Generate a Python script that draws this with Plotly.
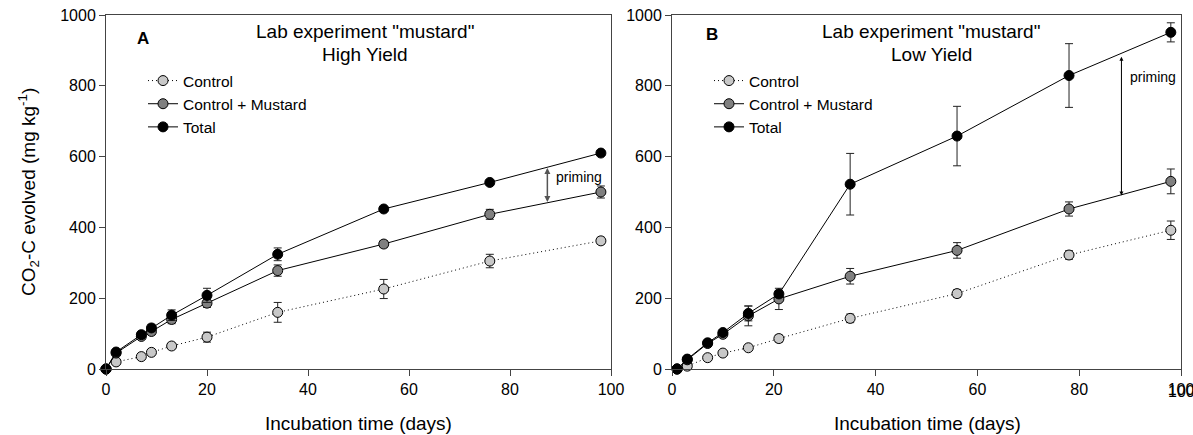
import plotly.graph_objects as go

# ---------------- data ----------------
days_A = [0, 2, 7, 9, 13, 20, 34, 55, 76, 98]
control_A = [0, 20, 35, 47, 65, 90, 160, 226, 305, 362]
control_A_err = [0, 4, 5, 5, 8, 14, 28, 27, 19, 10]
mustard_A = [0, 45, 92, 106, 140, 186, 278, 353, 437, 500]
mustard_A_err = [0, 4, 8, 9, 12, 12, 16, 10, 14, 17]
total_A = [0, 48, 97, 116, 152, 208, 324, 452, 527, 610]
total_A_err = [0, 4, 5, 10, 15, 20, 18, 6, 6, 6]

days_B = [1, 3, 7, 10, 15, 21, 35, 56, 78, 98]
control_B = [0, 8, 32, 45, 60, 86, 143, 213, 322, 392]
control_B_err = [0, 4, 4, 5, 6, 10, 12, 11, 12, 26]
mustard_B = [0, 26, 72, 98, 150, 198, 262, 335, 452, 530]
mustard_B_err = [0, 4, 5, 6, 28, 30, 22, 22, 20, 35]
total_B = [0, 28, 74, 103, 157, 212, 522, 658, 829, 951]
total_B_err = [0, 4, 5, 7, 21, 10, 87, 84, 90, 27]

series_names = ["Control", "Control + Mustard", "Total"]
x_ticks = [0, 20, 40, 60, 80, 100]
y_ticks = [0, 200, 400, 600, 800, 1000]

FONT = "Liberation Sans, Arial, sans-serif"
W, H = 1193, 435
ML, MR, MT, MB = 0, 0, 15, 66
PH = H - MT - MB


def px_x(p):
    return p / W


def px_y(p):
    return (H - MB - p) / PH


styles = [
    dict(fill="#c8c8c8", dash="1px,3px"),
    dict(fill="#808080", dash="solid"),
    dict(fill="#000000", dash="solid"),
]

fig = go.Figure()

panels = [
    ("x", "y", "legend", days_A, [(control_A, control_A_err), (mustard_A, mustard_A_err), (total_A, total_A_err)]),
    ("x2", "y2", "legend2", days_B, [(control_B, control_B_err), (mustard_B, mustard_B_err), (total_B, total_B_err)]),
]

for xa, ya, leg, days, series in panels:
    for name, (vals, errs), st in zip(series_names, series, styles):
        fig.add_trace(go.Scatter(
            x=days, y=vals, name=name, mode="lines+markers",
            xaxis=xa, yaxis=ya, legend=leg, cliponaxis=False,
            line=dict(color="black", width=1, dash=st["dash"]),
            marker=dict(size=10, color=st["fill"], line=dict(color="black", width=1)),
            error_y=dict(type="data", array=errs, visible=True, color="#222222", thickness=1, width=4),
        ))

axis_common = dict(
    range=[0, 100], showgrid=False, zeroline=False, showline=True, linecolor="#444444", linewidth=1,
    mirror=True, ticks="outside", ticklen=6, tickcolor="#444444", tickfont=dict(family=FONT, size=16, color="black"),
    automargin=False, ticklabeloverflow="allow",
)
yaxis_common = dict(axis_common)
yaxis_common.update(range=[0, 1000], tickvals=y_ticks)
xaxis_common = dict(axis_common)
xaxis_common.update(tickvals=x_ticks)

legend_common = dict(xanchor="left", yanchor="top", bgcolor="rgba(0,0,0,0)",
                     font=dict(family=FONT, size=15.5, color="black"), tracegroupgap=0)

fig.update_layout(
    width=W, height=H,
    margin=dict(l=ML, r=MR, t=MT, b=MB),
    paper_bgcolor="white", plot_bgcolor="white",
    font=dict(family=FONT, color="black"),
    xaxis=dict(xaxis_common, domain=[px_x(106), px_x(611)], anchor="y"),
    yaxis=dict(yaxis_common, domain=[0, 1], anchor="x"),
    xaxis2=dict(xaxis_common, domain=[px_x(672), px_x(1181)], anchor="y2"),
    yaxis2=dict(yaxis_common, domain=[0, 1], anchor="x2"),
    legend=dict(legend_common, x=px_x(143), y=px_y(64)),
    legend2=dict(legend_common, x=px_x(709), y=px_y(64)),
    showlegend=True,
)


def label(text, x, y, size, **kw):
    d = dict(text=text, x=px_x(x), y=px_y(y), xref="paper", yref="paper", showarrow=False,
             xanchor="center", yanchor="middle", font=dict(family=FONT, size=size, color="black"))
    d.update(kw)
    return d


ann = []
ann.append(label("<b>A</b>", 143, 38, 17))
ann.append(label("<b>B</b>", 712, 34, 17))
for cx, sub in [(365, "High Yield"), (931, "Low Yield")]:
    ann.append(label('Lab experiment "mustard"', cx, 32, 19))
    ann.append(label(sub, cx, 55, 19))
for cx in [358, 927]:
    ann.append(label("Incubation time (days)", cx, 423, 19))
ann.append(label("CO<sub>2</sub>-C evolved (mg kg<sup>-1</sup>)", 28, 192, 19, textangle=-90))
# last x tick label of panel B (plotly drops it at the page edge)
ann.append(dict(text=str(x_ticks[-1]), x=x_ticks[-1], xref="x2", y=px_y(391), yref="paper", showarrow=False,
                xanchor="center", yanchor="middle", font=dict(family=FONT, size=16, color="black")))

# priming arrows
ann.append(dict(x=87.4, y=472, ax=87.4, ay=572, xref="x", yref="y", axref="x", ayref="y", text="",
                showarrow=True, arrowside="end+start", arrowhead=2, arrowsize=0.8, arrowwidth=1.5,
                arrowcolor="#555555"))
ann.append(dict(text="priming", x=88.7, y=543, xref="x", yref="y", xanchor="left", yanchor="middle",
                showarrow=False, font=dict(family=FONT, size=14)))
ann.append(dict(x=88.3, y=490, ax=88.3, ay=886, xref="x2", yref="y2", axref="x2", ayref="y2", text="",
                showarrow=True, arrowside="end+start", arrowhead=2, arrowsize=0.8, arrowwidth=1,
                arrowcolor="black"))
ann.append(dict(text="priming", x=89.6, y=825, xref="x2", yref="y2", xanchor="left", yanchor="middle",
                showarrow=False, font=dict(family=FONT, size=14)))
fig.update_layout(annotations=ann)

fig.write_html("out.html", config={"displayModeBar": False},
               post_script="document.body.style.margin='0px';document.body.style.overflow='hidden';")
